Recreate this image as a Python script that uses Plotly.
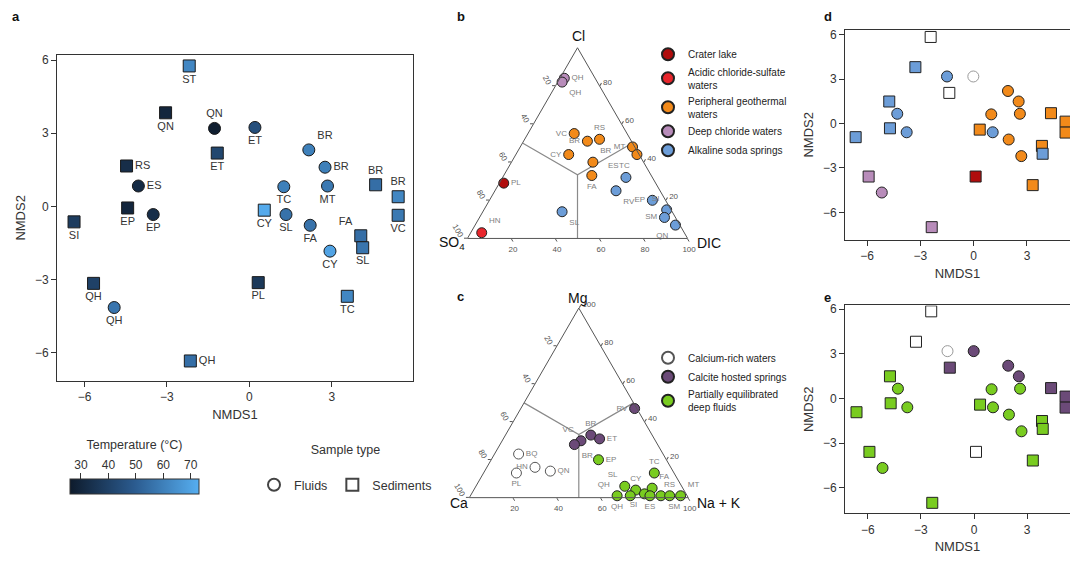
import plotly.graph_objects as go

FONT = "Liberation Sans, Arial, Helvetica, sans-serif"
W, H = 1070, 563
INK = "#333333"

# ---------------- panel a : NMDS, coloured by temperature ----------------
a_fl_lab = ["QN", "ES", "EP", "ET", "BR", "BR", "TC", "MT", "SL", "FA", "CY", "QH"]
a_fl_x = [-1.27, -4.04, -3.50, 0.20, 2.16, 2.75, 1.25, 2.84, 1.33, 2.21, 2.93, -4.92]
a_fl_y = [3.20, 0.84, -0.33, 3.24, 2.32, 1.61, 0.81, 0.84, -0.33, -0.77, -1.83, -4.14]
a_fl_temp = [27, 32, 33, 45, 60, 60, 60, 58, 56, 56, 70, 57]
a_fl_pos = ["top center", "middle right", "bottom center", "bottom center", "top right",
            "middle right", "bottom center", "bottom center", "bottom center",
            "bottom center", "bottom center", "bottom center"]

a_sd_lab = ["ST", "QN", "ET", "RS", "EP", "SI", "BR", "CY", "FA", "SL", "PL", "TC",
            "BR", "VC", "QH", "QH"]
a_sd_x = [-2.19, -3.05, -1.17, -4.47, -4.43, -6.38, 4.59, 0.54, 4.05, 4.12, 0.32, 3.56,
          5.41, 5.41, -5.67, -2.15]
a_sd_y = [5.76, 3.84, 2.19, 1.66, -0.06, -0.63, 0.89, -0.15, -1.20, -1.69, -3.12, -3.68,
          0.40, -0.36, -3.15, -6.33]
a_sd_temp = [62, 30, 42, 33, 30, 38, 55, 72, 55, 57, 37, 62, 62, 58, 40, 55]
a_sd_pos = ["bottom center", "bottom center", "bottom center", "middle right",
            "bottom center", "bottom center", "top center", "bottom center", "top left",
            "bottom center", "bottom center", "bottom center", "top center",
            "bottom center", "bottom center", "middle right"]

temp_ticks = [30, 40, 50, 60, 70]
temp_range = [26, 73]

# ---------------- panel b : Cl - SO4 - DIC ternary ----------------
b_lab = ["PL", "HN", "VC", "BR", "RS", "CY", "BR", "FA", "MT", "TC", "QH", "QH",
         "ES", "RV", "EP", "SI", "SM", "QN", "SL"]
b_cl = [29, 3, 55, 51, 52, 44, 40, 33, 48, 44, 84, 82, 32, 25, 20, 15, 11, 7, 14]
b_so4 = [69, 92, 24, 20, 14, 32, 23, 27, 1, 1, 14, 16, 12, 20, 6, 2, 5, 2, 50]
b_dic = [2, 5, 21, 29, 34, 24, 37, 40, 51, 55, 2, 2, 56, 55, 74, 83, 84, 91, 36]
b_grp = ["crater", "acid", "per", "per", "per", "per", "per", "per", "per", "per",
         "deep", "deep", "alk", "alk", "alk", "alk", "alk", "alk", "alk"]
b_pos = ["middle right", "top right", "middle left", "middle left", "top center",
         "middle left", "top right", "bottom center", "middle left", "bottom left",
         "middle right", "bottom right", "top left", "bottom right", "middle left",
         "top left", "middle left", "bottom left", "bottom right"]
b_groups = ["crater", "acid", "per", "deep", "alk"]
b_names = {"crater": "Crater lake",
           "acid": "Acidic chloride-sulfate<br>waters",
           "per": "Peripheral geothermal<br>waters",
           "deep": "Deep chloride waters",
           "alk": "Alkaline soda springs"}

# ---------------- panel c : Mg - Ca - Na+K ternary ----------------
c_lab = ["BQ", "HN", "QN", "PL", "RV", "BR", "ET", "VC", "BR", "EP", "TC", "SL", "CY",
         "FA", "QH", "QH", "SI", "ES", "SM", "RS", "MT"]
c_mg = [23, 16, 14, 13, 47, 33, 31, 30, 28, 20, 13, 6, 4, 5, 1, 1, 2, 1, 1, 1, 1]
c_ca = [66, 62, 56, 72, 1, 28, 25, 34, 38, 31, 9, 26, 22, 14, 32, 26, 19, 17, 12, 8, 3]
c_nak = [11, 22, 30, 15, 52, 39, 44, 36, 34, 49, 78, 68, 74, 81, 67, 73, 79, 82, 87, 91, 96]
c_grp = ["ca", "ca", "ca", "ca", "calc", "calc", "calc", "calc", "calc", "part", "part",
         "part", "part", "part", "part", "part", "part", "part", "part", "part", "part"]
c_pos = ["middle right", "middle left", "middle right", "bottom center", "middle left",
         "top center", "middle right", "top left", "bottom right", "middle right",
         "top center", "top left", "top center", "top right", "top left", "bottom left",
         "bottom left", "bottom center", "bottom right", "top center", "top right"]
c_groups = ["ca", "calc", "part"]
c_names = {"ca": "Calcium-rich waters", "calc": "Calcite hosted springs",
           "part": "Partially equilibrated<br>deep fluids"}

# Giggenbach field boundaries (edge midpoints to centroid), in %
field_a = [50, 33.3, 50, None, 33.3, 0]
field_b = [50, 33.3, 0, None, 33.3, 50]
field_c = [0, 33.3, 50, None, 33.3, 50]

# ---------------- panels d / e : same NMDS, coloured by water type ----------------
de_sd_x = [-2.42, -3.28, -1.37, -4.75, -4.71, -6.64, 0.34, 4.35, 5.17, 5.17, 3.84, 3.88,
           3.32, 0.11, -5.91, -2.36]
de_sd_y = [5.85, 3.81, 2.07, 1.49, -0.32, -0.92, -0.41, 0.70, 0.13, -0.61, -1.51, -2.04,
           -4.16, -3.58, -3.58, -7.00]
d_sd_grp = ["none", "alk", "none", "alk", "alk", "alk", "per", "per", "per", "per", "per",
            "alk", "per", "crater", "deep", "deep"]
e_sd_grp = ["none", "none", "calc", "part", "part", "part", "part", "calc", "calc", "calc",
            "part", "part", "part", "none", "part", "part"]
de_fl_x = [-1.50, -0.02, -4.30, -3.77, 1.07, 1.93, 2.53, 0.99, 2.60, 1.97, 2.68, -5.17]
de_fl_y = [3.18, 3.18, 0.66, -0.59, -0.59, 2.20, 1.49, 0.62, 0.66, -1.08, -2.20, -4.66]
d_fl_grp = ["alk", "none", "alk", "alk", "alk", "per", "per", "per", "per", "per", "per",
            "deep"]
e_fl_grp = ["none", "calc", "part", "part", "part", "calc", "calc", "part", "part", "part",
            "part", "part"]

nmds_ticks = [-6, -3, 0, 3, 6]

COL = {"crater": "#b00d0d", "acid": "#e8262c", "per": "#f28a1a", "deep": "#b88cba",
       "alk": "#6c9dd8", "none": "#ffffff", "ca": "#ffffff", "calc": "#6b4a78",
       "part": "#79cc20"}


def edge(g, shape):
    if g in ("none", "ca"):
        return "#999999" if shape == "circle" else "#222222"
    return "#222222"


fig = go.Figure()

TEMP_SCALE = [[0, "#0e1b2c"], [0.5, "#2b5b8f"], [1, "#56aef0"]]

# panel a traces
for xs, ys, ts, labs, pos, sym in [
        (a_sd_x, a_sd_y, a_sd_temp, a_sd_lab, a_sd_pos, "square"),
        (a_fl_x, a_fl_y, a_fl_temp, a_fl_lab, a_fl_pos, "circle")]:
    fig.add_trace(go.Scatter(
        x=xs, y=ys, mode="markers+text", text=labs, textposition=pos,
        textfont=dict(size=11, color=INK, family=FONT),
        marker=dict(symbol=sym, size=12, color=ts, coloraxis="coloraxis",
                    line=dict(color="#1a1a1a", width=1)),
        showlegend=False, hoverinfo="skip", xaxis="x", yaxis="y"))

# sample type legend entries
fig.add_trace(go.Scatter(x=[None], y=[None], mode="markers", name="Fluids",
                         marker=dict(symbol="circle", size=11, color="white",
                                     line=dict(color="#444", width=1)),
                         legend="legend", xaxis="x", yaxis="y"))
fig.add_trace(go.Scatter(x=[None], y=[None], mode="markers", name="Sediments",
                         marker=dict(symbol="square", size=11, color="white",
                                     line=dict(color="#444", width=1)),
                         legend="legend", xaxis="x", yaxis="y"))

# temperature tick axis (above the colour bar)
fig.add_trace(go.Scatter(x=[None], y=[None], xaxis="x4", yaxis="y4", showlegend=False,
                         hoverinfo="skip"))

LABEL_MARK = dict(size=10, color="rgba(0,0,0,0)")

# panel b
fig.add_trace(go.Scatterternary(a=field_a, b=field_b, c=field_c, mode="lines",
                                line=dict(color="#8a8a8a", width=1.2), subplot="ternary",
                                showlegend=False, hoverinfo="skip"))
for g in b_groups:
    idx = [i for i, v in enumerate(b_grp) if v == g]
    fig.add_trace(go.Scatterternary(
        a=[b_cl[i] for i in idx], b=[b_so4[i] for i in idx], c=[b_dic[i] for i in idx],
        mode="markers", name=b_names[g], legend="legend2", subplot="ternary",
        cliponaxis=False,
        marker=dict(size=10, color=COL[g], line=dict(color="#222", width=1))))
fig.add_trace(go.Scatterternary(a=b_cl, b=b_so4, c=b_dic, mode="markers+text", text=b_lab,
                                textposition=b_pos, subplot="ternary", cliponaxis=False,
                                marker=LABEL_MARK,
                                textfont=dict(size=8, color="#808080", family=FONT),
                                showlegend=False, hoverinfo="skip"))

# panel c
fig.add_trace(go.Scatterternary(a=field_a, b=field_b, c=field_c, mode="lines",
                                line=dict(color="#8a8a8a", width=1.2), subplot="ternary2",
                                showlegend=False, hoverinfo="skip"))
for g in c_groups:
    idx = [i for i, v in enumerate(c_grp) if v == g]
    fig.add_trace(go.Scatterternary(
        a=[c_mg[i] for i in idx], b=[c_ca[i] for i in idx], c=[c_nak[i] for i in idx],
        mode="markers", name=c_names[g], legend="legend3", subplot="ternary2",
        cliponaxis=False,
        marker=dict(size=10, color=COL[g],
                    line=dict(color="#555" if g == "ca" else "#222", width=1))))
fig.add_trace(go.Scatterternary(a=c_mg, b=c_ca, c=c_nak, mode="markers+text", text=c_lab,
                                textposition=c_pos, subplot="ternary2", cliponaxis=False,
                                marker=LABEL_MARK,
                                textfont=dict(size=8, color="#808080", family=FONT),
                                showlegend=False, hoverinfo="skip"))

# panels d and e
for grp_sd, grp_fl, xa, ya in [(d_sd_grp, d_fl_grp, "x2", "y2"),
                               (e_sd_grp, e_fl_grp, "x3", "y3")]:
    fig.add_trace(go.Scatter(
        x=de_sd_x, y=de_sd_y, mode="markers", xaxis=xa, yaxis=ya, showlegend=False,
        hoverinfo="skip",
        marker=dict(symbol="square", size=11, color=[COL[g] for g in grp_sd],
                    line=dict(color=[edge(g, "square") for g in grp_sd], width=1))))
    fig.add_trace(go.Scatter(
        x=de_fl_x, y=de_fl_y, mode="markers", xaxis=xa, yaxis=ya, showlegend=False,
        hoverinfo="skip",
        marker=dict(symbol="circle", size=11, color=[COL[g] for g in grp_fl],
                    line=dict(color=[edge(g, "circle") for g in grp_fl], width=1))))


def px_x(p):
    return p / W


def px_y(p):
    return 1 - p / H


def nmds_axis(dom, rng, title, mirror, **kw):
    d = dict(domain=dom, range=rng, tickvals=nmds_ticks, ticks="outside", ticklen=5,
             tickcolor=INK, tickfont=dict(size=12, color=INK, family=FONT),
             showline=True, linecolor=INK, linewidth=1, mirror=mirror, showgrid=False,
             zeroline=False, title=dict(text=title, font=dict(size=13, color=INK, family=FONT),
                                        standoff=6))
    d.update(kw)
    return d


def tern_axis(vals, text, angle=0):
    return dict(tickmode="array", tickvals=vals, ticktext=text, ticks="outside", ticklen=3,
                tickcolor="#555", tickfont=dict(size=8, color="#555", family=FONT),
                linecolor="#555", linewidth=1, showgrid=False, title=dict(text=""),
                tickangle=angle, min=0)


pct_vals = [0, 20, 40, 60, 80]
pct_text = ["100", "80", "60", "40", "20"]
# panel c bottom axis: the "80" label is hidden under the sample labels in the original
c_bottom_vals = [0, 40, 60, 80]
c_bottom_text = ["100", "60", "40", "20"]

fig.update_layout(
    width=W, height=H, margin=dict(l=0, r=0, t=0, b=0, pad=0),
    paper_bgcolor="white", plot_bgcolor="white",
    font=dict(family=FONT, color=INK),
    xaxis=nmds_axis([px_x(57), px_x(413)], [-7.0, 5.95], "NMDS1", True, anchor="y"),
    yaxis=nmds_axis([px_y(380), px_y(52)], [-7.15, 6.22], "NMDS2", True, anchor="x"),
    xaxis2=nmds_axis([px_x(845), 1.0], [-7.24, 5.42], "NMDS1", True, anchor="y2"),
    yaxis2=nmds_axis([px_y(238), px_y(27)], [-7.85, 6.33], "NMDS2", False, anchor="x2"),
    xaxis3=nmds_axis([px_x(845), 1.0], [-7.29, 5.42], "NMDS1", True, anchor="y3"),
    yaxis3=nmds_axis([px_y(513), px_y(304)], [-7.7, 6.25], "NMDS2", False, anchor="x3"),
    xaxis4=dict(domain=[px_x(70), px_x(199)], range=temp_range, tickvals=temp_ticks,
                anchor="free", position=px_y(479), side="top", ticks="outside", ticklen=6,
                tickcolor=INK, showline=False, showgrid=False, zeroline=False,
                tickfont=dict(size=12, color=INK, family=FONT),
                title=dict(text="Temperature (°C)", font=dict(size=12.5, color=INK),
                           standoff=4)),
    yaxis4=dict(domain=[px_y(494), px_y(479)], visible=False, anchor="x4", range=[0, 1]),
    coloraxis=dict(colorscale=TEMP_SCALE, cmin=temp_range[0], cmax=temp_range[1],
                   colorbar=dict(orientation="h", x=px_x(70), xanchor="left",
                                 y=px_y(479), yanchor="top", len=129, lenmode="pixels",
                                 thickness=15, xpad=0, ypad=0, showticklabels=False,
                                 ticks="", outlinecolor=INK, outlinewidth=1)),
    ternary=dict(domain=dict(x=[px_x(466.7), px_x(688.3)], y=[px_y(236.7), px_y(45)]),
                 sum=100, bgcolor="white",
                 aaxis=tern_axis(pct_vals, pct_text, 60),
                 baxis=tern_axis(pct_vals, pct_text),
                 caxis=tern_axis(pct_vals[1:], pct_text[1:])),
    ternary2=dict(domain=dict(x=[px_x(469.3), px_x(688.3)], y=[px_y(497.3), px_y(306.7)]),
                  sum=100, bgcolor="white",
                  aaxis=tern_axis(pct_vals, pct_text, 60),
                  baxis=tern_axis(c_bottom_vals, c_bottom_text),
                  caxis=tern_axis(pct_vals, pct_text)),
    legend=dict(orientation="h", x=px_x(254), y=px_y(437), xanchor="left", yanchor="top",
                title=dict(text="Sample type<br><span style='font-size:1px'> </span>",
                           side="top center", font=dict(size=12.5, color=INK)),
                font=dict(size=12.5, color=INK), bgcolor="rgba(0,0,0,0)",
                itemsizing="constant"),
    legend2=dict(x=px_x(648), y=px_y(37), xanchor="left", yanchor="top",
                 font=dict(size=10, color="#222"), bgcolor="rgba(0,0,0,0)",
                 itemsizing="constant", tracegroupgap=0),
    legend3=dict(x=px_x(648), y=px_y(342), xanchor="left", yanchor="top",
                 font=dict(size=10, color="#222"), bgcolor="rgba(0,0,0,0)",
                 itemsizing="constant", tracegroupgap=0),
)

ann = []
for t, x, y in [("a", 10, 14), ("b", 455, 14), ("c", 455, 295), ("d", 822, 14),
                ("e", 822, 296)]:
    ann.append(dict(text="<b>%s</b>" % t, x=px_x(x), y=px_y(y), xref="paper", yref="paper",
                    showarrow=False, xanchor="left", yanchor="middle",
                    font=dict(size=13, color="#111", family=FONT)))
for t, x, y in [("Cl", 578, 33), ("SO<sub>4</sub>", 452, 241), ("DIC", 709, 241),
                ("Mg", 577, 297), ("Ca", 459, 503), ("Na + K", 719, 503)]:
    ann.append(dict(text=t, x=px_x(x), y=px_y(y), xref="paper", yref="paper",
                    showarrow=False, xanchor="center", yanchor="middle",
                    font=dict(size=14, color="#111", family=FONT)))
fig.update_layout(annotations=ann)

fig.write_html("out.html")
